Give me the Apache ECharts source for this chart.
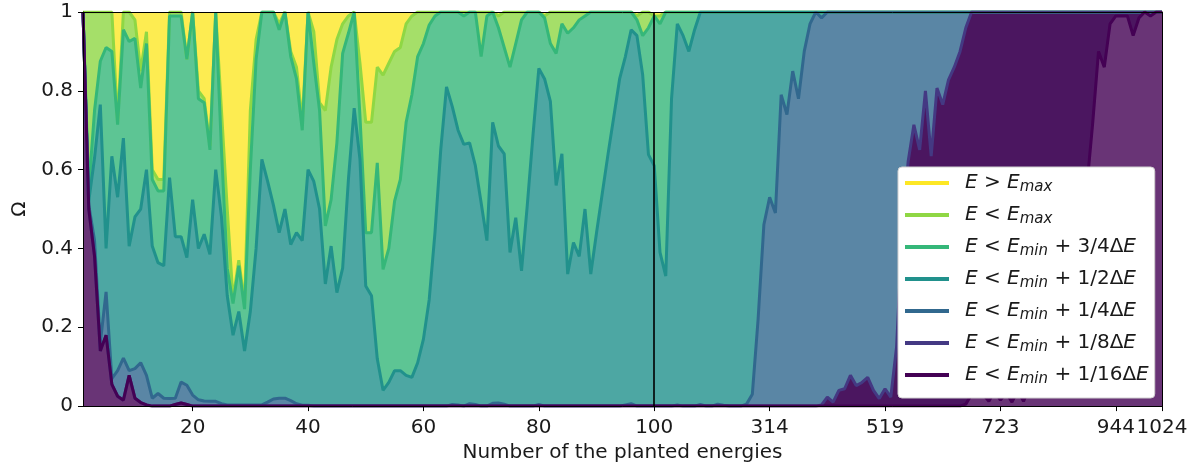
<!DOCTYPE html>
<html><head><meta charset="utf-8">
<script src="https://cdn.jsdelivr.net/npm/echarts@6/dist/echarts.min.js"></script>
<style>html,body{margin:0;padding:0;background:#fff}#chart{width:1198px;height:468px}</style>
</head><body><div id="chart"></div>
<script>
// x positions: sample number 1..188 (1..100 are n=1..100, the rest are sampled up to n=1024)
const sampleIndex = [];
for (let n = 1; n <= 188; n++) sampleIndex.push(n);

const xTickPos = [20, 40, 60, 80, 100, 120, 140, 160, 180, 188];
const xTickLabels = ['20', '40', '60', '80', '100', '314', '519', '723', '944', '1024'];
const yTickPos = [0, 0.2, 0.4, 0.6, 0.8, 1];
const yTickLabels = ['0', '0.2', '0.4', '0.6', '0.8', '1'];
const splitAt = 100;

const legendNames = ['E > Emax', 'E < Emax', 'E < Emin + 3/4ΔE', 'E < Emin + 1/2ΔE',
  'E < Emin + 1/4ΔE', 'E < Emin + 1/8ΔE', 'E < Emin + 1/16ΔE'];
const legendRich = [
  '{i|E}{r| > }{i|E}{s|max}',
  '{i|E}{r| < }{i|E}{s|max}',
  '{i|E}{r| < }{i|E}{s|min}{r| + 3/4Δ}{i|E}',
  '{i|E}{r| < }{i|E}{s|min}{r| + 1/2Δ}{i|E}',
  '{i|E}{r| < }{i|E}{s|min}{r| + 1/4Δ}{i|E}',
  '{i|E}{r| < }{i|E}{s|min}{r| + 1/8Δ}{i|E}',
  '{i|E}{r| < }{i|E}{s|min}{r| + 1/16Δ}{i|E}'
];

// cumulative fractions, i = 1..188
const lessEmax = [
 1,1,1,1,1,1,0.72,1,1,0.98,
 0.85,0.95,0.6,0.575,0.575,1,1,1,0.88,1,
 0.8,0.78,0.66,1,0.75,0.5,0.27,0.37,0.26,0.75,
 0.93,1,1,1,0.97,1,0.9,0.86,0.72,1,
 0.95,0.77,0.75,0.86,0.93,0.97,0.99,1,0.87,0.72,
 0.72,0.86,0.84,0.87,0.9,0.91,0.97,0.99,1,1,
 1,1,1,1,1,1,1,1,1,1,
 1,1,0.99,1,1,1,1,1,1,1,
 0.99,1,1,1,1,1,1,1,1,1,
 1,1,1,1,1,1,0.99,1,1,0.99,
 0.99,1,1,1,1,1,1,1,1,1,
 1,1,1,1,1,1,1,1,1,1,
 1,1,1,1,1,1,1,1,1,1,
 1,1,1,1,1,1,1,1,1,1,
 1,1,1,1,1,1,1,1,1,1,
 1,1,1,1,1,1,1,1,1,1,
 1,1,1,1,1,1,1,1,1,1,
 1,1,1,1,1,1,1,1,1,1,
 1,1,1,1,1,1,1,1
];
const lessQ3 = [
 1,0.55,0.75,0.875,0.91,0.9,0.714,0.955,0.925,0.933,
 0.807,0.92,0.575,0.546,0.546,0.99,0.99,0.99,0.88,1,
 0.78,0.77,0.65,1,0.65,0.35,0.26,0.356,0.246,0.6,
 0.88,1,1,1,0.955,1,0.887,0.83,0.7,1,
 0.87,0.75,0.457,0.524,0.668,0.895,0.946,1,0.735,0.44,
 0.44,0.617,0.347,0.4,0.52,0.575,0.72,0.79,0.887,0.92,
 0.967,0.99,1,1,1,1,0.99,1,1,0.887,
 0.99,1,0.96,0.91,0.86,0.92,0.98,1,1,1,
 0.985,0.92,0.895,0.97,0.946,0.96,0.98,0.99,1,1,
 1,1,1,1,1,1,0.98,0.94,0.96,0.99,
 0.97,1,1,1,1,1,1,1,1,1,
 1,1,1,1,1,1,1,1,1,1,
 1,1,1,1,1,1,1,1,1,1,
 1,1,1,1,1,1,1,1,1,1,
 1,1,1,1,1,1,1,1,1,1,
 1,1,1,1,1,1,1,1,1,1,
 1,1,1,1,1,1,1,1,1,1,
 1,1,1,1,1,1,1,1,1,1,
 1,1,1,1,1,1,1,1
];
const lessHalf = [
 1,0.52,0.63,0.765,0.4,0.634,0.53,0.68,0.406,0.48,
 0.5,0.6,0.406,0.364,0.356,0.58,0.43,0.43,0.377,0.524,
 0.4,0.436,0.385,0.6,0.48,0.28,0.18,0.24,0.14,0.24,
 0.4,0.626,0.57,0.51,0.44,0.5,0.41,0.44,0.42,0.6,
 0.57,0.5,0.31,0.406,0.288,0.35,0.575,0.756,0.626,0.305,
 0.28,0.12,0.04,0.06,0.09,0.09,0.078,0.073,0.11,0.17,
 0.27,0.44,0.65,0.81,0.76,0.7,0.664,0.668,0.61,0.516,
 0.42,0.72,0.66,0.64,0.39,0.478,0.343,0.51,0.69,0.857,
 0.83,0.773,0.56,0.64,0.335,0.415,0.38,0.5,0.335,0.44,
 0.54,0.64,0.735,0.83,0.887,0.955,0.94,0.84,0.638,0.61,
 0.39,0.33,0.78,0.97,0.94,0.9,0.955,1,1,1,
 1,1,1,1,1,1,1,1,1,1,
 1,1,1,1,1,1,1,1,1,1,
 1,1,1,1,1,1,1,1,1,1,
 1,1,1,1,1,1,1,1,1,1,
 1,1,1,1,1,1,1,1,1,1,
 1,1,1,1,1,1,1,1,1,1,
 1,1,1,1,1,1,1,1,1,1,
 1,1,1,1,1,1,1,1
];
const lessQ1 = [
 1,0.51,0.42,0.16,0.29,0.07,0.09,0.122,0.09,0.095,
 0.11,0.078,0.02,0.032,0.02,0.019,0.02,0.061,0.053,0.028,
 0.016,0.013,0.012,0.012,0.006,0.003,0.003,0.003,0.003,0.003,
 0.003,0.003,0.01,0.018,0.02,0.02,0.014,0.006,0.002,0.002,
 0,0,0,0,0,0,0,0,0,0,
 0,0,0,0,0,0,0,0,0,0,
 0,0,0,0,0.004,0.003,0,0.006,0.004,0,
 0,0.007,0.008,0.005,0,0,0,0,0,0.004,
 0,0,0,0,0,0,0,0,0,0,
 0,0,0,0,0.003,0.006,0,0,0,0,
 0,0,0,0.003,0,0,0,0.004,0,0,
 0.005,0.002,0,0,0,0.005,0.03,0.22,0.46,0.53,
 0.49,0.79,0.74,0.85,0.78,0.9,0.97,1,0.985,1,
 1,1,1,1,1,1,1,1,1,1,
 1,1,1,1,1,1,1,1,1,1,
 1,1,1,1,1,1,1,1,1,1,
 1,1,1,1,1,1,1,1,1,1,
 1,1,1,1,1,1,1,1,1,1,
 1,1,1,1,1,1,1,1
];
const lessEighth = [
 1,0.5,0.38,0.14,0.18,0.055,0.025,0.015,0.078,0.02,
 0.009,0.003,0,0,0,0,0.004,0.008,0.004,0,
 0,0,0,0,0,0,0,0,0,0,
 0,0,0,0,0,0,0,0,0,0,
 0,0,0,0,0,0,0,0,0,0,
 0,0,0,0,0,0,0,0,0,0,
 0,0,0,0,0,0,0,0,0,0,
 0,0,0,0,0,0,0,0,0,0,
 0,0,0,0,0,0,0,0,0,0,
 0,0,0,0,0,0,0,0,0,0,
 0,0,0,0,0,0,0,0,0,0,
 0,0,0,0,0,0,0,0,0,0,
 0,0,0,0,0,0,0,0,0.003,0.023,
 0.01,0.04,0.044,0.078,0.052,0.06,0.073,0.04,0.019,0.044,
 0.023,0.15,0.45,0.62,0.714,0.65,0.8,0.634,0.807,0.765,
 0.828,0.86,0.9,0.96,1,1,1,1,1,1,
 1,1,1,1,1,1,1,1,1,1,
 1,1,1,1,1,1,1,1,1,1,
 1,1,1,1,1,1,1,1
];
const lessSixteenth = [
 1,0.5,0.38,0.14,0.18,0.055,0.025,0.015,0.078,0.02,
 0.009,0.003,0,0,0,0,0.004,0.008,0.004,0,
 0,0,0,0,0,0,0,0,0,0,
 0,0,0,0,0,0,0,0,0,0,
 0,0,0,0,0,0,0,0,0,0,
 0,0,0,0,0,0,0,0,0,0,
 0,0,0,0,0,0,0,0,0,0,
 0,0,0,0,0,0,0,0,0,0,
 0,0,0,0,0,0,0,0,0,0,
 0,0,0,0,0,0,0,0,0,0,
 0,0,0,0,0,0,0,0,0,0,
 0,0,0,0,0,0,0,0,0,0,
 0,0,0,0,0,0,0,0,0,0,
 0,0,0,0,0,0,0,0,0,0,
 0,0,0,0,0,0,0,0,0,0,
 0,0,0,0.005,0.03,0.035,0.03,0.012,0.04,0.015,
 0.035,0.01,0.04,0.012,0.05,0.07,0.1,0.14,0.18,0.23,
 0.28,0.33,0.39,0.46,0.56,0.72,0.9,0.86,0.97,0.99,
 0.99,0.99,0.94,0.985,1,0.99,1,1
];

const curves = [
  {name: legendNames[1], values: lessEmax,      line: '#8fd744', fill: '#a5df69'},
  {name: legendNames[2], values: lessQ3,        line: '#35b779', fill: '#5dc594'},
  {name: legendNames[3], values: lessHalf,      line: '#21918c', fill: '#4da7a3'},
  {name: legendNames[4], values: lessQ1,        line: '#31688e', fill: '#5a86a5'},
  {name: legendNames[5], values: lessEighth,    line: '#443983', fill: '#4b1660'},
  {name: legendNames[6], values: lessSixteenth, line: '#440154', fill: '#693476'}
];
const pairs = arr => arr.map((v, k) => [sampleIndex[k], v]);

const series = [];
series.push({name: legendNames[0], type: 'line', data: [], color: '#fde725', symbol: 'none'});
curves.forEach((c, k) => series.push({
  name: 'fill' + k, type: 'line', data: pairs(c.values), symbol: 'none', color: c.fill,
  lineStyle: {width: 0, opacity: 0}, areaStyle: {color: c.fill, opacity: 1},
  z: 1, silent: true, animation: false
}));
curves.forEach((c, k) => series.push({
  name: c.name, type: 'line', data: pairs(c.values), symbol: 'none', color: c.line,
  lineStyle: {width: 3, color: c.line}, z: 3, silent: true, animation: false
}));
series[series.length - 1].markLine = {
  symbol: ['none', 'none'], silent: true, label: {show: false},
  lineStyle: {color: '#000', width: 1.6, type: 'solid'},
  data: [{xAxis: splitAt}], animation: false
};

const FONT = 'DejaVu Sans';
const axisCommon = {
  axisLine: {show: true, onZero: false, lineStyle: {color: '#000', width: 1}},
  splitLine: {show: false}, z: 10
};
const chart = echarts.init(document.getElementById('chart'), null, {renderer: 'canvas'});
chart.setOption({
  animation: false,
  grid: {left: 83, right: 36, top: 12, bottom: 60.5, show: true, backgroundColor: '#fdec51', borderWidth: 0},
  legend: {
    data: legendNames, orient: 'vertical', left: 898, top: 167, z: 20,
    padding: [0, 6, 7, 7], itemGap: 0, itemWidth: 44, itemHeight: 4, icon: 'rect',
    backgroundColor: '#ffffff', borderColor: '#d0d0d0', borderWidth: 1, borderRadius: 4,
    selectedMode: false,
    formatter: name => legendRich[legendNames.indexOf(name)],
    textStyle: {
      fontFamily: FONT, fontSize: 20, color: '#1a1a1a', lineHeight: 32, padding: [0, 0, 0, 11],
      rich: {
        i: {fontFamily: FONT, fontStyle: 'italic', fontSize: 20, color: '#1a1a1a'},
        r: {fontFamily: FONT, fontSize: 20, color: '#1a1a1a'},
        s: {fontFamily: FONT, fontStyle: 'italic', fontSize: 15, lineHeight: 15, padding: [8, 0, 0, 0], color: '#1a1a1a'}
      }
    }
  },
  xAxis: [
    Object.assign({}, axisCommon, {
      type: 'value', min: 1, max: 188, position: 'bottom',
      name: 'Number of the planted energies', nameLocation: 'middle', nameGap: 36,
      nameTextStyle: {fontFamily: FONT, fontSize: 20, color: '#1a1a1a'},
      axisTick: {show: true, length: 5, customValues: xTickPos, lineStyle: {color: '#000'}},
      axisLabel: {customValues: xTickPos, margin: 12, fontFamily: FONT, fontSize: 20, color: '#1a1a1a',
        formatter: v => xTickLabels[xTickPos.indexOf(v)]}
    }),
    Object.assign({}, axisCommon, {
      type: 'value', min: 1, max: 188, position: 'top',
      axisTick: {show: false}, axisLabel: {show: false}
    })
  ],
  yAxis: [
    Object.assign({}, axisCommon, {
      type: 'value', min: 0, max: 1, position: 'left',
      name: 'Ω', nameLocation: 'middle', nameGap: 52, nameRotate: 90,
      nameTextStyle: {fontFamily: FONT, fontSize: 20, color: '#1a1a1a'},
      axisTick: {show: true, length: 5, customValues: yTickPos, lineStyle: {color: '#000'}},
      axisLabel: {customValues: yTickPos, margin: 10, fontFamily: FONT, fontSize: 20, color: '#1a1a1a',
        formatter: v => yTickLabels[yTickPos.indexOf(v)]}
    }),
    Object.assign({}, axisCommon, {
      type: 'value', min: 0, max: 1, position: 'right',
      axisTick: {show: false}, axisLabel: {show: false}
    })
  ],
  series: series
});
</script>
</body></html>
